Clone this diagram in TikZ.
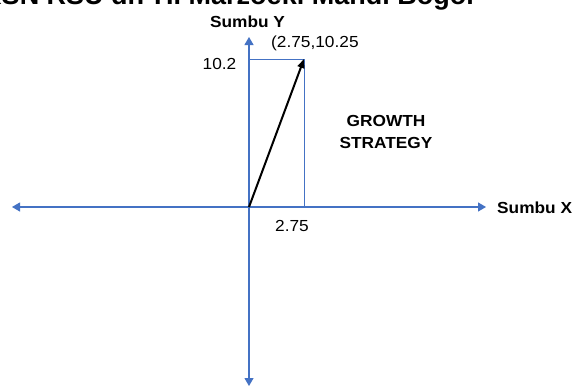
\documentclass[tikz,border=0pt]{standalone}
\usepackage{fontspec}
\usepackage{graphicx}
\setmainfont{Liberation Sans}
\usetikzlibrary{arrows.meta}
\definecolor{axisblue}{RGB}{68,114,196}
\newcommand\hsq[1]{\scalebox{1.08}[1]{#1}}
\tikzset{
  axisline/.style={draw=axisblue, line width=1.1pt, -{Triangle[length=8pt,width=9pt]}},
  guide/.style={draw=axisblue, line width=1pt},
  vec/.style={draw=black, line width=2pt, -{Triangle[length=9pt,width=7pt]}},
  lbl/.style={inner sep=0pt, font=\fontsize{16}{18}\selectfont},
  blbl/.style={inner sep=0pt, font=\fontsize{16}{18}\selectfont\bfseries},
}
\begin{document}
\begin{tikzpicture}[x=1pt,y=-1pt]
\clip (0,0) rectangle (574,388);
\fill[white] (0,0) rectangle (574,388);
% title (cut off at top)
\node[inner sep=0pt, anchor=base east, font=\fontsize{27}{30}\selectfont\bfseries] (title) at (477,5) {KSN RSU dr. H. Marzoeki Mahdi Bogor};
% coordinates
\coordinate (O) at (249,207);
\coordinate (xl) at (12,207);
\coordinate (xr) at (486,207);
\coordinate (yt) at (249,37);
\coordinate (yb) at (249,386);
\coordinate (P) at (304,59);
\coordinate (Py) at (249,59);
\coordinate (Px) at (304,207);
% axes
\draw[axisline] (O) -- (xr);
\draw[axisline] (O) -- (xl);
\draw[axisline] (O) -- (yt);
\draw[axisline] (O) -- (yb);
% guide rectangle
\draw[guide] (Py) -- (P) -- (Px);
% vector
\draw[vec] (O) -- (P);
% labels
\node[blbl, anchor=base] (sy) at (247.5,27.5) {\hsq{Sumbu Y}};
\node[blbl, anchor=base west] (sx) at (497,213) {\hsq{Sumbu X}};
\node[lbl, anchor=base west] (pt) at (271,47.5) {\hsq{(2.75,10.25}};
\node[lbl, anchor=base east] (ty) at (236.5,69.5) {\hsq{10.2}};
\node[lbl, anchor=base] (tx) at (292,231) {\hsq{2.75}};
\node[blbl, align=center] (gs) at (386,132) {\hsq{GROWTH}\\[4pt]\hsq{STRATEGY}};
\end{tikzpicture}
\end{document}
